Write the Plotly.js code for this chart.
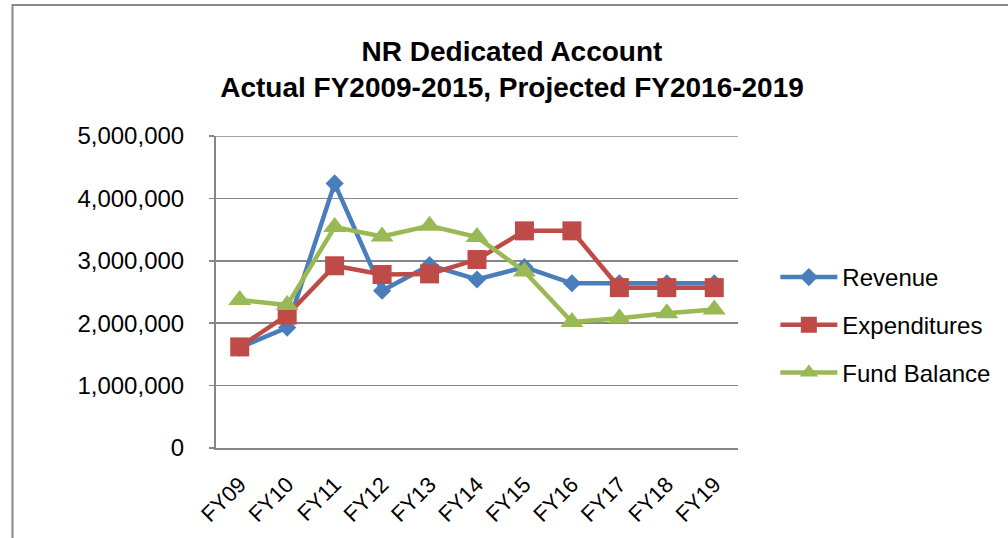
<!DOCTYPE html>
<html>
<head>
<meta charset="utf-8">
<script src="https://cdn.plot.ly/plotly-3.0.1.min.js"></script>
<style>
html,body{margin:0;padding:0;background:#fff;}
#chart{width:1008px;height:538px;}
</style>
</head>
<body>
<div id="chart"></div>
<script>
var categories = ['FY09','FY10','FY11','FY12','FY13','FY14','FY15','FY16','FY17','FY18','FY19'];
var revenue = [1610000, 1930000, 4240000, 2520000, 2930000, 2700000, 2900000, 2640000, 2640000, 2640000, 2640000];
var expenditures = [1620000, 2130000, 2920000, 2780000, 2790000, 3020000, 3480000, 3480000, 2570000, 2570000, 2570000];
var fundBalance = [2370000, 2290000, 3540000, 3390000, 3560000, 3380000, 2830000, 2020000, 2080000, 2160000, 2220000];
var seriesNames = ['Revenue', 'Expenditures', 'Fund Balance'];
var yTicks = [0, 1000000, 2000000, 3000000, 4000000, 5000000];

var L = 216, R = 747, T = 136, B = 448, W = 1008, H = 538;
function px(x){ return (x - L) / (R - L); }
function py(y){ return (B - y) / (B - T); }

var gridColor = '#868686';
var colors = ['#4A7EBB', '#BE4B48', '#98B954'];
var symbols = ['diamond', 'square', 'triangle-up'];
var sizes = [14, 19, 20];
var data = [revenue, expenditures, fundBalance].map(function(vals, i){
  return {
    type: 'scatter', mode: 'lines+markers',
    x: categories, y: vals, name: seriesNames[i],
    legendgroup: 'g' + i,
    line: {color: colors[i], width: 4.5},
    marker: {symbol: symbols[i], size: sizes[i], color: colors[i]},
    cliponaxis: false
  };
});

var yMax = yTicks[yTicks.length - 1];

var layout = {
  width: W, height: H,
  margin: {l: L, r: W - R, t: T, b: H - B, pad: 0},
  paper_bgcolor: '#ffffff', plot_bgcolor: '#ffffff',
  font: {family: 'Liberation Sans, Arial, sans-serif', color: '#000000', size: 24},
  title: {
    text: 'NR Dedicated Account<br>Actual FY2009-2015, Projected FY2016-2019',
    font: {family: 'Liberation Sans, Arial, sans-serif', size: 28, color: '#000000', weight: 'bold'},
    x: 512 / W, xanchor: 'center', xref: 'container',
    y: 1 - 61 / H, yanchor: 'middle', yref: 'container'
  },
  xaxis: {
    type: 'category', range: [-0.5, categories.length - 0.5],
    showgrid: false, showline: true, linecolor: gridColor, linewidth: 2,
    ticks: '', tickangle: -45, ticklabelstandoff: 13,
    tickfont: {size: 22, color: '#000000'},
    zeroline: false, fixedrange: true
  },
  yaxis: {
    range: [0, yMax], tickvals: yTicks, tickformat: ',d',
    showgrid: true, gridcolor: gridColor, gridwidth: 1.6,
    showline: true, linecolor: gridColor, linewidth: 2,
    ticks: 'outside', ticklen: 5, tickcolor: gridColor, tickwidth: 1.6,
    ticklabelstandoff: 20,
    tickfont: {size: 24, color: '#000000'},
    zeroline: false, fixedrange: true
  },
  showlegend: true,
  legend: {
    x: px(785), xanchor: 'left', y: py(255), yanchor: 'top',
    bgcolor: 'rgba(0,0,0,0)', borderwidth: 0,
    font: {size: 24, color: '#000000'},
    traceorder: 'grouped', tracegroupgap: 13.5, itemwidth: 57
  },
  shapes: [{
    type: 'rect', xref: 'paper', yref: 'paper',
    x0: px(9), x1: px(1030), y0: py(560), y1: py(5),
    line: {color: '#888888', width: 2}, fillcolor: 'rgba(0,0,0,0)', layer: 'below'
  }, {
    type: 'line', xref: 'paper', yref: 'y',
    x0: 0, x1: 1, y0: yMax, y1: yMax,
    line: {color: gridColor, width: 1.6}, layer: 'below'
  }]
};

Plotly.newPlot('chart', data, layout, {displayModeBar: false, staticPlot: true});
</script>
</body>
</html>
